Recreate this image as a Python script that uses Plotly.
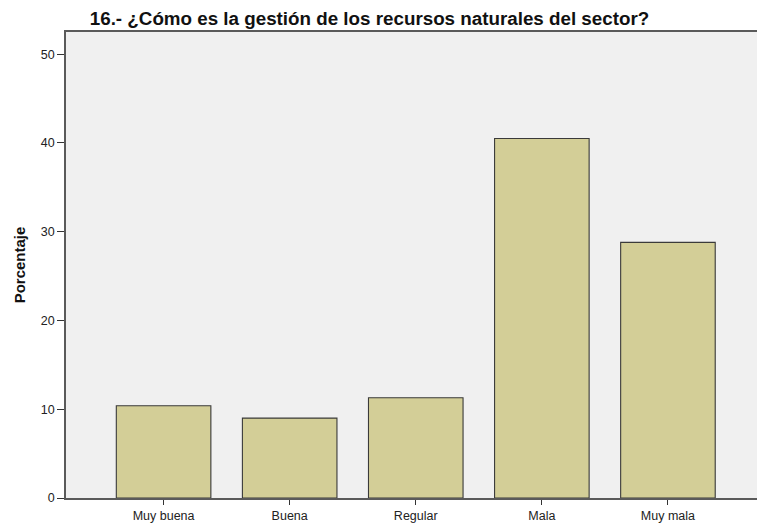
import plotly.graph_objects as go

categories = ["Muy buena", "Buena", "Regular", "Mala", "Muy mala"]
values = [10.4, 9.0, 11.3, 40.5, 28.8]
y_ticks = [0, 10, 20, 30, 40, 50]

fig = go.Figure(go.Bar(
    x=categories, y=values,
    width=0.75,
    marker=dict(color="#d3ce97", line=dict(color="#3a3a3a", width=1.1)),
    hoverinfo="x+y",
))

fig.update_layout(
    width=757, height=523,
    margin=dict(l=66, r=0, t=32, b=25, autoexpand=False),
    paper_bgcolor="white",
    plot_bgcolor="#f0f0f0",
    font=dict(family="Liberation Sans, Arial, sans-serif", color="#222222"),
    title=dict(text="<b>16.- ¿Cómo es la gestión de los recursos naturales del sector?</b>",
               x=369.5/757, xanchor="center", xref="container",
               y=1-18/523, yanchor="middle", yref="container",
               font=dict(size=18.8, color="#111111")),
    showlegend=False,
)
fig.update_xaxes(
    range=[-0.774, 4 + (757 - 668) / 126],
    showline=True, linecolor="#5a5a5a", linewidth=1.5, mirror=True,
    ticks="outside", ticklen=5, tickcolor="#333333", tickwidth=1,
    tickfont=dict(size=12.5, color="#222222"),
    showgrid=False, zeroline=False,
)
fig.update_yaxes(
    range=[0, 52.5],
    tickvals=y_ticks,
    showline=True, linecolor="#5a5a5a", linewidth=1.5, mirror=False,
    ticks="outside", ticklen=7, tickcolor="#333333", tickwidth=1,
    tickfont=dict(size=12.5, color="#222222"),
    showgrid=False, zeroline=False,
    title=dict(text="<b>Porcentaje</b>", font=dict(size=15, color="#111111"), standoff=12),
)

fig.write_html("out.html", config={"displayModeBar": False},
               post_script="document.body.style.margin='0';")
